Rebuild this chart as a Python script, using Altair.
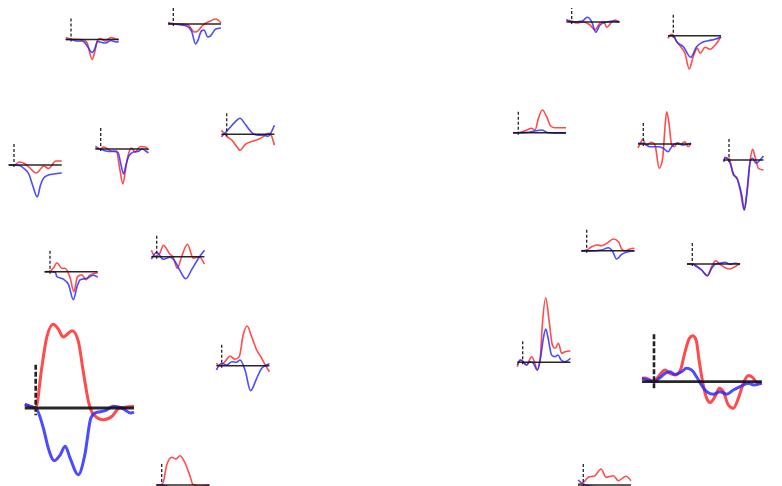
import altair as alt
import pandas as pd

# time axis of every inset (ms) and pixel length of 1 ms for a unit-size inset
T_START = -100
PX_PER_MS = 0.053

# ---- waveforms: (time ms, amplitude) ----
A_RED = [(-100, 2), (0, 0.5), (150, 0), (250, -0.5), (300, -3), (400, -19.8), (450, -12), (500, -1), (550, 1), (650, -1.5), (750, 2), (850, 0.5), (900, 0)]
A_BLUE = [(-100, 0), (0, 0), (100, -1.5), (200, -1.5), (250, -2.5), (300, -6), (400, -13), (450, -9), (500, -2), (550, -2.5), (650, -3.5), (750, -1), (850, -2.5), (900, -2)]

B_RED = [(-100, 1.5), (0, 0.5), (150, 0), (280, -1), (400, -8), (450, -7.5), (550, -1.5), (700, 3), (800, 5), (900, 1)]
B_BLUE = [(-100, 0.5), (0, 0), (150, -1), (250, -2), (350, -8), (420, -20), (460, -17), (530, -7), (580, -6), (650, -13), (700, -12), (800, -5), (900, -4)]

C_RED = [(-100, 0), (0, 0), (100, 3), (200, 1.5), (300, -3), (420, -8), (500, -4), (560, -1), (650, -3.5), (720, 0), (780, 4), (900, 4)]
C_BLUE = [(-100, 0), (0, 0), (100, -0.5), (200, -4), (280, -9), (350, -20), (440, -32), (500, -20), (560, -13), (650, -10), (750, -9), (900, -8)]

D_RED = [(-100, 3), (0, 0), (50, 2), (200, -2), (300, -3), (360, -20), (420, -35), (470, -20), (520, -6), (580, 1), (650, -3), (750, 2.5), (850, 2), (900, -1)]
D_BLUE = [(-100, 1), (0, 0), (100, -2), (200, -2.5), (280, -2), (330, -4), (380, -15), (430, -25), (480, -15), (530, -7), (620, -3), (700, -2.5), (780, 0), (850, -2), (900, -4)]

E_RED = [(-100, 4), (0, -2), (100, -6), (200, -13), (250, -16), (350, -10), (480, -7), (600, -5), (700, -2), (780, 1), (830, 0), (900, -11)]
E_BLUE = [(-100, -2.5), (0, 3), (50, 6), (150, 12), (250, 16), (350, 10), (480, 1.5), (600, -1), (700, -1), (780, -2), (850, 3), (900, 9)]

F_RED = [(-100, 0), (0, 0.5), (80, 5), (130, 9), (220, 3.5), (280, 3.5), (380, -6), (450, -20), (520, -5), (600, -3), (680, -8), (750, -3.5), (900, -1)]
F_BLUE = [(-100, 0), (0, 0), (100, -0.5), (130, -5), (250, -7.5), (350, -13), (440, -28), (510, -15), (570, -8), (700, -6.5), (820, -3.5), (900, -5.5)]

G_RED = [(-100, 6.5), (-30, 0.5), (60, 3.5), (125, 11.5), (250, 2.5), (310, -0.5), (390, -11.5), (470, 0), (580, 12.5), (690, -1.5), (800, 0), (900, -7.5)]
G_BLUE = [(-100, -2.5), (0, 4.5), (125, -2.5), (250, -0.5), (350, -5), (440, -14), (550, -22), (660, -13), (790, -1.5), (900, 6.5)]

H_RED = [(-100, 1.3), (-60, 1), (0, 0), (55, 19.4), (100, 34), (160, 40.6), (210, 38), (250, 34.5), (335, 37.5), (390, 32.5), (435, 17.9), (490, 1.6), (530, -3.2), (620, -5.7), (700, -4), (760, -0.3), (900, 0.8)]
H_BLUE = [(-100, 1.9), (-50, 0.8), (0, 0), (70, -9.7), (115, -19.4), (170, -25.6), (225, -22.7), (270, -18.6), (315, -24.3), (390, -32.4), (450, -22.7), (505, -4.9), (545, -2.4), (635, -1.3), (710, 0.8), (790, 0), (870, -2.4), (900, -2)]

I_RED = [(-100, 2.4), (-30, 0), (60, 4), (155, 9.7), (250, 6.4), (330, 9), (405, 30.7), (480, 39.7), (565, 29), (660, 15.7), (755, 7.4), (830, 0), (900, -6)]
I_BLUE = [(-100, -4.3), (0, 2.4), (95, 0.7), (190, 4), (280, 3.4), (345, 5.7), (440, -4.3), (545, -25), (660, -12.6), (755, -2.6), (820, 0), (900, 2)]

J_RED = [(-100, 0), (0, 0.5), (30, 3), (95, 20), (190, 27.7), (270, 26), (345, 29.3), (440, 22), (535, 8.7), (590, 0.5), (700, -1), (900, 0)]
J_BLUE = [(-100, 0), (0, 0), (200, -3), (400, -6), (600, -3), (900, -1)]

K_RED = [(-100, 2), (0, 1), (95, -1), (220, 0), (345, -3), (440, -8), (535, -1), (610, 0), (660, -5.3), (755, 0), (815, 2), (900, 0)]
K_BLUE = [(-100, 2), (0, 0), (200, 1), (295, 4.7), (380, 0), (455, -10.3), (535, -3), (660, 0), (790, 1), (900, 0)]

L_RED = [(-100, -2.6), (-30, 1.4), (65, -6), (160, -12.6), (220, -17.6), (300, -33.3), (375, -21), (455, -12.6), (505, -17.6), (600, -11.6), (695, -13.6), (790, -9.3), (900, -1)]
L_BLUE = [(-100, 0), (0, 0), (65, -6), (190, -11), (330, -21.6), (440, -11), (535, -7), (660, -5), (790, -3.6), (900, -1)]

M_RED = [(-100, 0), (0, 0), (160, 2.7), (250, 4.4), (315, 2.7), (380, 14.4), (455, 22.7), (535, 16), (610, 6.7), (690, 5), (900, 5)]
M_BLUE = [(-100, 0), (0, 0), (200, 0.5), (340, 2), (440, 2.7), (560, 0), (700, -0.5), (900, -0.6)]

N_RED = [(-100, -4), (-55, 0.7), (-10, 4.7), (50, -1), (160, 1.7), (220, -1), (300, -24.3), (365, -14.3), (410, 17.3), (440, 32.3), (485, 20.7), (535, -1), (585, -2.7), (650, 1.3), (710, 0), (785, 2.3), (845, -2.7), (900, 0.7)]
N_BLUE = [(-100, 0.7), (0, 0.7), (125, -2.7), (280, -2.7), (370, -4), (470, -7.7), (535, -2.7), (630, 0.7), (755, -1), (900, 0.7)]

O_RED = [(-100, -1.7), (-75, 1.7), (0, 1.7), (40, -5), (80, -15), (145, -17.3), (210, -30), (285, -50), (335, -33.3), (400, 0), (445, 10.7), (490, 3.3), (555, -8.3), (650, -10)]
O_BLUE = [(-100, -1.7), (-75, 2.7), (20, -3.3), (80, -13.3), (175, -21.7), (240, -35), (290, -50), (345, -30), (400, -1.7), (445, 1.7), (510, -3.3), (585, 0), (650, 4)]

P_RED = [(-100, 0), (0, 0.7), (95, 4), (190, 5.7), (285, 5), (380, 7.4), (505, 11.7), (600, 9), (660, 1.7), (720, -0.3), (815, 1.7), (900, 2.4)]
P_BLUE = [(-100, -0.6), (95, -0.3), (285, 0.7), (410, 3), (485, -0.3), (565, -8.3), (660, -3.6), (785, -1), (900, -0.3)]

Q_RED = [(-100, 0), (0, 0), (80, -1.7), (175, -6), (285, -11.7), (365, -2.7), (440, 3.3), (525, -0.3), (615, -3.7), (710, -5), (805, -2.7), (900, 0.7)]
Q_BLUE = [(-100, 0), (0, 0), (80, -2.7), (175, -6), (285, -11.7), (365, -4.3), (440, 0), (525, 0.7), (615, 1.7), (710, -0.3), (805, 0.7), (900, -0.3)]

R_RED = [(-100, -4.4), (-70, 0.6), (-20, 2.3), (30, -1), (75, -2.7), (105, 0), (170, 5.6), (220, 0.6), (275, -7.7), (330, 4), (370, 37.3), (435, 64.6), (500, 40.6), (560, 17.3), (610, 14), (675, 19), (735, 9), (800, 10.6), (900, 11.3)]
R_BLUE = [(-100, -2.7), (-50, 2.3), (5, 0.6), (75, -2.7), (140, 0.6), (200, -1), (275, -7.7), (340, 5.6), (390, 24), (435, 33.3), (480, 24), (545, 7.3), (610, 5.6), (665, 7.3), (725, 2.3), (790, 0.6), (900, 4)]

S_RED = [(-100, 1.5), (-75, 1.6), (-35, 0.8), (0, 0), (35, 2.2), (92, 5.2), (134, 3.7), (175, 3), (217, 4.7), (259, 13.2), (295, 19.2), (323, 20.3), (351, 18.5), (378, 8.9), (411, -1.5), (440, -7.4), (468, -9.2), (509, -6.6), (545, -2.9), (579, -4.4), (620, -10.3), (662, -11.8), (704, -7.4), (746, -0.7), (788, 2.7), (825, 1.8), (858, -0.3), (900, -0.6)]
S_BLUE = [(-100, 1.5), (-50, 0.8), (0, 0), (50, 1.8), (92, 3.7), (134, 4.4), (175, 3.2), (230, 4.4), (272, 5.9), (314, 5.2), (355, 2.2), (397, -1.5), (440, -4.4), (495, -5.6), (550, -4.4), (606, -5.5), (662, -3.7), (718, -2.2), (788, -0.7), (835, -1.5), (900, -0.6)]

T_RED = [(-100, 1), (0, 2.7), (95, 7.7), (220, 9.3), (335, 16), (430, 7.7), (570, 9.3), (660, 4.3), (805, 8.7), (900, 4.3)]
T_BLUE = [(-100, 5), (0, 1), (150, -1), (300, -2), (500, -3), (700, -2), (900, -2)]

# dashed stimulus-onset marker extent (amplitude units)
ONSET_TOP = 21
ONSET_BOTTOM = -3.5

# ---- layout of the insets (page pixels of the t=0 / zero-amplitude point) ----
PANEL_NAMES = list("ABCDEFGHIJKLMNOPQRST")
PANEL_X0 = [71, 173.3, 14, 100.7, 226.7, 50, 156.7, 35.7, 221.7, 161.7, 571.7, 673.3, 518.3, 643.3, 729, 586.7, 692.3, 522.7, 654, 583.3]
PANEL_Y0 = [39.5, 24, 165, 149, 134.3, 271.7, 256.7, 408, 365.7, 485, 22, 35.7, 132.7, 144, 160, 250.7, 264, 362.3, 381.7, 485]
PANEL_SCALE = [1, 1, 1, 1, 1, 1, 1, 2.06, 1, 1, 1, 1, 1, 1, 1, 1, 1, 1, 2.26, 1]
PANEL_TEND = [900] * 14 + [650] + [900] * 5
RED_SERIES = [A_RED, B_RED, C_RED, D_RED, E_RED, F_RED, G_RED, H_RED, I_RED, J_RED, K_RED, L_RED, M_RED, N_RED, O_RED, P_RED, Q_RED, R_RED, S_RED, T_RED]
BLUE_SERIES = [A_BLUE, B_BLUE, C_BLUE, D_BLUE, E_BLUE, F_BLUE, G_BLUE, H_BLUE, I_BLUE, J_BLUE, K_BLUE, L_BLUE, M_BLUE, N_BLUE, O_BLUE, P_BLUE, Q_BLUE, R_BLUE, S_BLUE, T_BLUE]

rows = []
for i, name in enumerate(PANEL_NAMES):
    meta = dict(panel=name, x0=PANEL_X0[i], y0=PANEL_Y0[i], s=PANEL_SCALE[i])
    for t, v in RED_SERIES[i]:
        rows.append(dict(meta, series="red", t=t, v=v))
    for t, v in BLUE_SERIES[i]:
        rows.append(dict(meta, series="blue", t=t, v=v))
    rows.append(dict(meta, series="base", t=T_START, v=0))
    rows.append(dict(meta, series="base", t=PANEL_TEND[i], v=0))
    rows.append(dict(meta, series="dash", t=0, v=ONSET_TOP))
    rows.append(dict(meta, series="dash", t=0.001, v=ONSET_BOTTOM))
df = pd.DataFrame(rows)

base = alt.Chart(df).transform_calculate(
    px=f"datum.x0 + datum.t * {PX_PER_MS} * datum.s",
    py="datum.y0 - datum.v * datum.s",
    sw="datum.s > 1 ? 3 : 1.6",
    bw="datum.s > 1 ? 2.8 : 1.6",
)

X = alt.X("px:Q", scale=alt.Scale(domain=[8, 774], nice=False, zero=False), axis=None)
Y = alt.Y("py:Q", scale=alt.Scale(domain=[8, 486], reverse=True, nice=False, zero=False), axis=None)

red = base.transform_filter("datum.series == 'red'").mark_line(
    interpolate="monotone", color="#ff2b2b", opacity=0.85, clip=True
).encode(x=X, y=Y, detail="panel:N", order="t:Q", strokeWidth=alt.StrokeWidth("sw:Q", scale=None))

blue = base.transform_filter("datum.series == 'blue'").mark_line(
    interpolate="monotone", color="#2b2bff", opacity=0.85, clip=True
).encode(x=X, y=Y, detail="panel:N", order="t:Q", strokeWidth=alt.StrokeWidth("sw:Q", scale=None))

baseline = base.transform_filter("datum.series == 'base'").mark_line(
    color="#111111", opacity=0.9, clip=True
).encode(x=X, y=Y, detail="panel:N", order="t:Q", strokeWidth=alt.StrokeWidth("bw:Q", scale=None))

dash_small = base.transform_filter("datum.series == 'dash' && datum.s == 1").mark_line(
    color="#222222", strokeDash=[3, 2], strokeWidth=1.3, clip=True
).encode(x=X, y=Y, detail="panel:N", order="t:Q")

dash_big = base.transform_filter("datum.series == 'dash' && datum.s > 1").mark_line(
    color="#222222", strokeDash=[5, 2], strokeWidth=2.6, clip=True
).encode(x=X, y=Y, detail="panel:N", order="t:Q")

chart = alt.layer(red, blue, baseline, dash_small, dash_big).properties(
    width=766, height=478, padding=0, autosize=alt.AutoSizeParams(type="none"),
    background="white",
).configure_view(stroke=None)

chart.save("out.html", embed_options={"renderer": "svg", "actions": False})
